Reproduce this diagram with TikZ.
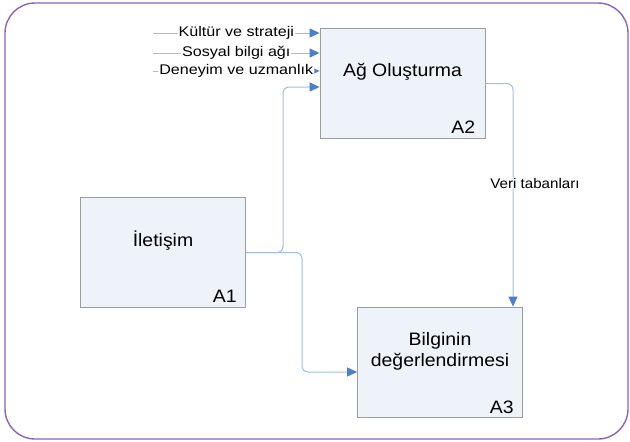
\documentclass[tikz,border=0pt]{standalone}
\usepackage{fontspec}
\setmainfont{Liberation Sans}[FakeStretch=1.08]
\newfontfamily\flowfont{Liberation Sans}[FakeStretch=1.15]
\usetikzlibrary{arrows.meta}
\definecolor{framepurple}{HTML}{8E63B5}
\definecolor{boxfill}{HTML}{EEF2F9}
\definecolor{boxline}{HTML}{9C9C9C}
\definecolor{flowline}{HTML}{A3BEE3}
\definecolor{tipblue}{HTML}{4A7FC9}
\tikzset{
  actbox/.style={draw=boxline, fill=boxfill, line width=0.8pt,
    minimum width=165pt, minimum height=110pt, inner sep=0pt},
  acttitle/.style={font=\fontsize{18}{21}\selectfont, align=center, inner sep=0pt},
  actnum/.style={font=\fontsize{18}{21}\selectfont, anchor=base east, inner sep=0pt},
  flow/.style={draw=flowline, line width=1pt, rounded corners=6pt,
    -{Triangle[length=10pt,width=9pt,color=tipblue]}},
  flowlabel/.style={font=\flowfont\fontsize{14}{16}\selectfont, fill=white,
    inner sep=1pt},
}
\begin{document}
\begin{tikzpicture}[x=1pt,y=-1pt]
  \useasboundingbox (0,0) rectangle (630,442);
  % outer frame
  \draw[framepurple, line width=1.4pt, rounded corners=30pt]
    (5,3) rectangle (628,439);

  % activity boxes
  \node[actbox] (a1) at (163,252.5) {};
  \node[actbox] (a2) at (402.5,83.5) {};
  \node[actbox] (a3) at (440,362) {};

  \node[acttitle] (a1t) at ([yshift=12pt]a1.center) {İletişim};
  \node[acttitle] (a2t) at ([yshift=12pt]a2.center) {Ağ Oluşturma};
  \node[acttitle] (a3t) at ([yshift=11pt]a3.center) {Bilginin\\değerlendirmesi};

  \node[actnum] (a1n) at ([xshift=-9pt,yshift=5pt]a1.south east) {A1};
  \node[actnum] (a2n) at ([xshift=-10pt,yshift=5pt]a2.south east) {A2};
  \node[actnum] (a3n) at ([xshift=-9pt,yshift=4pt]a3.south east) {A3};

  % inputs entering A2 from the left
  \coordinate (in1) at (153,33);
  \coordinate (in2) at (153,53);
  \coordinate (in3) at (153,71);
  \draw[flow] (in1) -- node[flowlabel] (l1) {Kültür ve strateji} (in1 -| a2.west);
  \draw[flow] (in2) -- node[flowlabel] (l2) {Sosyal bilgi ağı} (in2 -| a2.west);
  \draw[flow] (in3) -- node[flowlabel] (l3) {Deneyim ve uzmanlık} (in3 -| a2.west);

  % A1 feeds A2 and A3
  \coordinate (j1) at (283,252.5);
  \coordinate (j2) at (302,252.5);
  \draw[flow] (a1.east) -- (j1) |- ([yshift=-3.5pt]a2.west);
  \draw[flow] (a1.east) -- (j2) |- ([yshift=-10pt]a3.west);

  % A2 output to A3
  \draw[flow] (a2.east) -| ([xshift=73pt]a3.north);
  \node[font=\fontsize{14}{16}\selectfont, fill=white, fill opacity=0.6,
        text opacity=1, inner sep=1pt] (db) at (535,183) {Veri tabanları};
\end{tikzpicture}
\end{document}
